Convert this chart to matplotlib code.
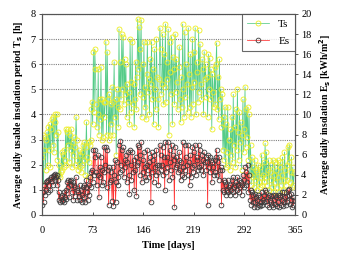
import matplotlib
matplotlib.use("Agg")
import matplotlib.pyplot as plt
import numpy as np

days = list(range(365))

# Average daily usable insolation period Ts [h] (left axis)
ts = [
    2.3, 3.2, 1.2, 2.6, 3.1, 1.8, 3.0, 3.3, 2.0, 3.5,
    2.6, 3.6, 1.9, 3.4, 3.8, 2.8, 3.9, 2.5, 3.7, 4.0,
    3.2, 4.0, 2.2, 3.3, 1.6, 2.0, 1.5, 1.7, 2.5, 1.8,
    2.4, 1.9, 2.6, 2.2, 3.4, 2.0, 3.3, 2.8, 3.4, 2.1,
    3.2, 2.6, 3.4, 1.9, 2.9, 2.4, 3.1, 2.0, 2.7, 3.9,
    3.0, 2.2, 1.8, 2.6, 1.9, 2.4, 1.7, 2.5, 2.0, 2.8,
    2.2, 2.9, 1.6, 2.7, 3.7, 2.3, 1.5, 2.9, 2.1, 2.8,
    3.0, 4.2, 4.5, 3.6, 6.5, 4.1, 6.6, 5.8, 4.4, 3.5,
    4.0, 5.8, 3.2, 4.6, 3.8, 5.9, 3.0, 4.6, 3.1, 4.5,
    3.9, 4.5, 6.9, 3.2, 6.5, 4.6, 3.0, 4.8, 3.2, 4.4,
    3.6, 5.1, 3.2, 4.5, 6.1, 3.9, 4.6, 2.4, 5.0, 4.3,
    3.5, 7.4, 4.2, 6.1, 4.6, 7.2, 5.0, 7.1, 4.4, 6.2,
    4.8, 6.0, 3.9, 5.2, 4.5, 4.9, 3.6, 7.0, 5.3, 4.1,
    6.9, 4.4, 5.2, 3.5, 4.6, 6.1, 4.2, 5.5, 7.8, 5.8,
    7.5, 4.8, 6.6, 7.75, 3.9, 6.0, 4.7, 6.9, 4.3, 5.1,
    3.8, 5.6, 6.9, 4.9, 5.4, 4.0, 6.2, 5.2, 6.9, 4.6,
    5.8, 3.6, 6.6, 5.0, 4.2, 7.0, 5.5, 4.6, 3.5, 5.4,
    7.45, 6.6, 4.8, 5.2, 7.2, 4.4, 6.4, 5.1, 7.6, 4.5,
    6.1, 5.4, 7.4, 3.2, 6.9, 5.7, 4.8, 7.1, 3.6, 6.3,
    5.8, 4.4, 7.2, 4.9, 6.2, 5.3, 4.2, 5.9, 6.7, 4.6,
    3.7, 5.5, 4.3, 7.6, 5.0, 3.9, 7.3, 4.7, 6.0, 5.2,
    4.1, 7.45, 5.6, 4.3, 6.4, 3.9, 5.1, 7.0, 4.4, 6.5,
    5.3, 7.45, 4.0, 6.1, 5.7, 4.5, 7.35, 4.9, 6.8, 5.2,
    4.6, 6.2, 5.8, 4.0, 6.5, 5.4, 6.0, 4.7, 5.5, 3.9,
    6.4, 5.0, 6.25, 4.6, 5.8, 3.4, 5.6, 4.9, 4.3, 5.9,
    4.4, 6.0, 6.85, 4.2, 5.5, 3.8, 6.2, 4.6, 5.0, 3.5,
    4.8, 2.6, 3.9, 2.2, 4.3, 1.9, 3.6, 2.5, 4.3, 2.0,
    3.0, 1.8, 3.4, 2.4, 3.9, 2.1, 4.8, 2.8, 3.5, 1.9,
    4.2, 2.6, 5.0, 3.3, 2.2, 4.1, 2.9, 3.7, 1.8, 3.2,
    4.6, 2.5, 3.4, 5.1, 2.7, 4.2, 3.1, 4.3, 2.2, 4.0,
    1.6, 2.8, 1.2, 2.3, 1.5, 1.9, 1.1, 2.2, 1.4, 1.8,
    1.0, 1.7, 2.0, 1.3, 1.1, 1.9, 1.5, 2.4, 1.2, 1.6,
    2.1, 1.3, 2.85, 1.5, 2.5, 1.2, 1.8, 2.2, 1.0, 1.7,
    2.0, 1.4, 1.1, 2.2, 0.9, 1.6, 2.1, 1.3, 1.8, 1.1,
    2.2, 1.5, 0.9, 1.9, 2.1, 1.2, 1.6, 2.3, 1.0, 1.4,
    2.5, 1.8, 1.2, 2.0, 1.4, 2.7, 2.1, 2.8, 1.3, 1.7,
    2.3, 1.1, 1.9, 1.2, 1.67,
]

# Average daily insolation Es [kWh/m2] (right axis)
es = [
    1.0, 2.25, 1.25, 3.0, 2.0, 3.25, 2.5, 3.4, 2.25, 3.5,
    3.0, 3.6, 2.5, 3.75, 3.4, 3.9, 3.0, 4.0, 3.5, 4.1,
    3.75, 4.0, 3.0, 3.5, 1.5, 2.25, 1.25, 1.75, 1.4, 2.0,
    1.5, 1.25, 2.25, 1.75, 2.5, 1.6, 3.25, 2.75, 3.5, 1.75,
    3.4, 3.0, 3.5, 2.25, 3.25, 1.5, 3.0, 1.9, 2.75, 3.75,
    2.5, 1.5, 2.25, 1.9, 3.0, 1.5, 2.5, 1.25, 2.0, 2.75,
    1.75, 3.0, 1.25, 2.75, 3.5, 2.25, 1.5, 3.0, 2.0, 3.75,
    2.75, 4.25, 4.5, 3.25, 6.5, 4.0, 6.5, 5.75, 4.25, 3.0,
    4.0, 6.0, 1.75, 4.75, 3.75, 5.75, 3.0, 4.5, 3.25, 6.75,
    4.25, 5.0, 6.75, 2.75, 6.5, 4.5, 1.0, 4.75, 3.25, 4.25,
    3.5, 1.4, 4.75, 0.9, 4.0, 5.5, 1.25, 3.25, 5.25, 3.75,
    3.0, 7.0, 4.25, 7.4, 5.0, 6.5, 4.5, 6.75, 3.75, 5.5,
    4.75, 6.0, 3.25, 5.25, 6.25, 4.0, 2.1, 6.5, 5.0, 3.5,
    6.25, 4.25, 5.5, 2.5, 4.5, 5.75, 1.9, 5.0, 7.0, 5.25,
    6.75, 4.0, 6.0, 7.25, 3.25, 5.5, 4.25, 6.25, 3.75, 4.75,
    3.5, 5.0, 6.5, 4.5, 5.25, 3.75, 5.75, 1.25, 6.25, 4.25,
    5.5, 3.25, 6.0, 4.75, 4.0, 6.5, 5.0, 4.25, 3.0, 5.0,
    7.0, 6.0, 4.5, 5.0, 6.75, 4.0, 5.75, 2.5, 7.25, 4.25,
    5.75, 4.75, 7.25, 3.5, 6.5, 5.25, 4.5, 7.0, 3.75, 6.0,
    5.5, 0.75, 6.75, 4.75, 5.75, 5.0, 4.25, 5.5, 6.25, 4.5,
    3.5, 5.25, 4.0, 7.25, 4.75, 3.75, 7.0, 4.5, 5.75, 5.0,
    4.0, 7.0, 5.25, 3.0, 6.0, 3.75, 4.75, 6.75, 4.25, 6.25,
    5.0, 7.0, 4.0, 5.75, 5.5, 4.5, 7.0, 4.75, 6.5, 5.0,
    4.5, 6.0, 5.5, 4.0, 6.25, 5.25, 5.75, 4.5, 5.25, 1.0,
    6.0, 4.75, 5.75, 4.25, 5.5, 3.25, 5.25, 4.75, 4.0, 5.5,
    4.25, 5.75, 6.5, 4.0, 5.25, 3.5, 5.75, 4.5, 4.75, 1.0,
    4.5, 2.5, 3.5, 2.25, 3.25, 2.0, 3.0, 2.5, 3.5, 2.25,
    2.75, 2.0, 3.0, 2.5, 3.5, 2.25, 3.75, 2.75, 3.0, 2.0,
    3.25, 2.5, 3.75, 3.0, 2.25, 3.5, 2.75, 3.25, 2.0, 3.0,
    4.0, 2.75, 3.5, 4.75, 3.0, 4.25, 3.25, 5.0, 2.25, 4.0,
    1.5, 2.5, 1.0, 2.25, 1.25, 2.0, 0.75, 2.1, 1.25, 1.75,
    0.75, 1.5, 2.0, 1.0, 0.9, 1.75, 1.25, 2.25, 1.0, 1.5,
    2.0, 1.25, 2.5, 1.4, 2.25, 1.0, 1.75, 2.0, 0.75, 1.5,
    1.9, 1.25, 1.0, 2.0, 0.75, 1.5, 2.0, 1.1, 1.75, 0.9,
    2.0, 1.25, 0.75, 1.75, 2.0, 1.0, 1.5, 2.25, 0.9, 1.25,
    2.25, 1.75, 1.0, 1.9, 1.25, 2.5, 2.0, 2.6, 1.1, 1.5,
    2.1, 0.75, 1.75, 1.0, 1.5,
]

xticks = [0, 73, 146, 219, 292, 365]
left_ticks = [0, 1, 2, 3, 4, 5, 6, 7, 8]
right_ticks = [0, 2, 4, 6, 8, 10, 12, 14, 16, 18, 20]

serif = "Liberation Serif"
plt.rcParams["font.family"] = serif

fig = plt.figure(figsize=(3.37, 2.54), dpi=100)
ax = fig.add_axes([0.125, 0.154, 0.75, 0.791])
ax2 = ax.twinx()

spine_col = "#555555"
ax.set_xlim(0, 365)
ax.set_ylim(0, 8)
ax2.set_ylim(0, 20)
ax.set_xticks(xticks)
ax.set_yticks(left_ticks)
ax2.set_yticks(right_ticks)

ax.yaxis.grid(True, color="#808080", linestyle=(0, (1, 1)), linewidth=0.8)
ax.set_axisbelow(True)

l1, = ax.plot(days, ts, color="#55cc88", linewidth=0.55, marker="o",
              markersize=3.6, markerfacecolor="none",
              markeredgecolor="#eeee22", markeredgewidth=0.6, label="Ts")
l2, = ax2.plot(days, es, color="#ff3333", linewidth=0.55, marker="o",
               markersize=3.4, markerfacecolor="none",
               markeredgecolor="#3a3a3a", markeredgewidth=0.6, label="Es")

for a in (ax, ax2):
    for s in a.spines.values():
        s.set_color(spine_col)
        s.set_linewidth(0.8)
    a.spines["top"].set_linestyle((0, (1, 1)))
    a.tick_params(labelsize=7.5, length=2.5, width=0.7, color=spine_col,
                  pad=2)
ax.tick_params(axis="x", direction="in", pad=8)

ax.set_xlabel("Time [days]", fontsize=7.5, fontweight="bold", labelpad=4)
ax.set_ylabel("Average daily usable insolation period T$_\\mathbf{s}$ [h]",
              fontsize=7, fontweight="bold", labelpad=4)
ax2.set_ylabel("Average daily insolation E$_\\mathbf{s}$ [kWh/m$^\\mathbf{2}$]",
               fontsize=7, fontweight="bold", labelpad=4)

leg = ax2.legend(handles=[l1, l2], loc="upper right", fontsize=8,
                 frameon=True, fancybox=False, borderaxespad=0.0,
                 handlelength=2.0, borderpad=0.5, labelspacing=0.6)
leg.get_frame().set_edgecolor("#444444")
leg.get_frame().set_linewidth(0.8)

fig.savefig("out.png", dpi=100)
